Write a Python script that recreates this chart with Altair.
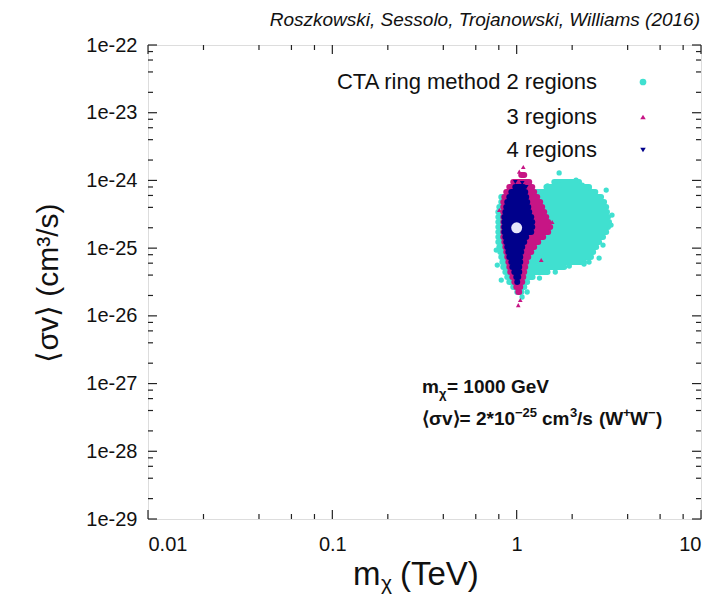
import altair as alt
import pandas as pd

FONT = "Liberation Sans"
W, H = 553, 474

CYAN = "#40E0D0"
MAGENTA = "#C71585"
NAVY = "#00008B"

# Horizontal slices through each reconstructed cloud:
# <sigma v> level (cm^3/s) with the lowest and highest m_chi (TeV) reached.
cyan_sv = [9.46e-25, 7.99e-25, 6.74e-25, 5.69e-25, 4.80e-25, 4.05e-25, 3.41e-25, 2.88e-25,
           2.43e-25, 2.05e-25, 1.73e-25, 1.46e-25, 1.23e-25, 1.04e-25, 8.75e-26, 7.39e-26,
           6.23e-26, 5.26e-26, 4.44e-26, 3.74e-26, 3.16e-26, 2.66e-26, 2.25e-26]
cyan_lo = [1.60, 1.45, 0.971, 0.825, 0.825, 0.805, 0.795, 0.795, 0.795, 0.795, 0.795, 0.795,
           0.795, 0.805, 0.815, 0.825, 0.836, 0.846, 0.868, 0.889, 0.912, 0.958, 1.007]
cyan_hi = [2.18, 2.47, 2.67, 2.87, 2.98, 3.06, 3.09, 3.13, 3.17, 3.13, 3.06, 2.94, 2.80,
           2.70, 2.60, 2.53, 2.32, 1.81, 1.47, 1.22, 1.14, 1.10, 1.06]

mag_sv = [1.20e-24, 9.46e-25, 7.99e-25, 6.74e-25, 5.69e-25, 4.80e-25, 4.05e-25, 3.41e-25,
          2.88e-25, 2.43e-25, 2.05e-25, 1.73e-25, 1.46e-25, 1.23e-25, 1.04e-25, 8.75e-26,
          7.39e-26, 6.23e-26, 5.26e-26, 4.44e-26, 3.74e-26, 3.16e-26, 2.66e-26, 2.25e-26]
mag_lo = [1.059, 0.958, 0.912, 0.878, 0.857, 0.846, 0.846, 0.846, 0.846, 0.846, 0.846, 0.846,
          0.846, 0.857, 0.868, 0.878, 0.889, 0.901, 0.912, 0.923, 0.947, 0.971, 0.995, 1.02]
mag_hi = [1.099, 1.17, 1.215, 1.245, 1.293, 1.342, 1.376, 1.411, 1.447, 1.483, 1.520, 1.483,
          1.393, 1.309, 1.245, 1.20, 1.156, 1.127, 1.113, 1.099, 1.086, 1.072, 1.046, 1.033]

navy_sv = [7.99e-25, 6.74e-25, 5.69e-25, 4.80e-25, 4.05e-25, 3.41e-25, 2.88e-25, 2.43e-25,
           2.05e-25, 1.73e-25, 1.46e-25, 1.23e-25, 1.04e-25, 8.75e-26, 7.39e-26, 6.23e-26,
           5.26e-26, 4.44e-26, 3.74e-26, 3.16e-26]
navy_lo = [0.983, 0.935, 0.912, 0.889, 0.878, 0.868, 0.857, 0.857, 0.857, 0.857, 0.868,
           0.878, 0.889, 0.901, 0.912, 0.935, 0.947, 0.971, 0.995, 1.007]
navy_hi = [1.086, 1.113, 1.127, 1.141, 1.156, 1.17, 1.20, 1.215, 1.215, 1.20, 1.127,
           1.099, 1.072, 1.059, 1.046, 1.046, 1.033, 1.033, 1.02, 1.007]

# Isolated scan points scattered around the cloud edges
cyan_pt_m = [1.70, 1.17, 1.70, 2.10, 2.27, 3.06, 3.25, 2.80, 2.32, 1.62, 1.33, 1.07, 0.785,
             2.47, 1.47, 3.29, 2.94, 2.47, 1.93, 0.775, 0.825, 1.14]
cyan_pt_sv = [1.29e-24, 9.16e-25, 8.55e-25, 1.01e-24, 8.55e-25, 7.21e-25, 2.19e-25,
              7.14e-26, 5.82e-26, 4.44e-26, 3.62e-26, 1.90e-26, 5.63e-26,
              7.73e-25, 8.27e-25, 3.08e-25, 1.11e-25, 6.23e-26, 5.44e-26, 9.37e-26,
              3.38e-26, 2.25e-26]
mag_pt_m = [1.086, 1.02, 1.359, 1.558, 0.805, 1.046, 1.033]
mag_pt_sv = [1.58e-24, 1.44e-26, 6.67e-26, 2.43e-25, 3.65e-25, 1.71e-26, 1.35e-24]
navy_pt_m = [1.072, 1.127, 0.983]
navy_pt_sv = [9.16e-25, 7.99e-25, 9.46e-25]

# Injected benchmark: m_chi = 1000 GeV, <sigma v> = 2e-25 cm^3/s
bench_m = [1.0]
bench_sv = [2e-25]

legend_labels = ["CTA ring method 2 regions", "3 regions", "4 regions"]

x_major = [0.01, 0.1, 1.0, 10.0]
y_major = [10.0 ** k for k in range(-29, -21)]
x_minor = [f * d for d in (0.01, 0.1, 1.0) for f in (2, 4, 6, 8)]
y_minor = [f * 10.0 ** k for k in range(-29, -22) for f in (2, 4, 6, 8)]

xs = alt.Scale(type="log", domain=[0.01, 10], nice=False)
ys = alt.Scale(type="log", domain=[1e-29, 1e-22], nice=False)

x_axis = alt.Axis(values=x_major, format="~g", ticks=False, domain=False, grid=False,
                  labelFont=FONT, labelFontSize=20, labelColor="#111", labelPadding=15,
                  title=None)
y_axis = alt.Axis(values=y_major, labelExpr="'1e-' + format(-log(datum.value)/LN10, '.0f')",
                  ticks=False, domain=False, grid=False, labelFont=FONT, labelFontSize=20,
                  labelColor="#111", labelPadding=11, title=None)


def xq(field):
    return alt.X(field, type="quantitative", scale=xs, axis=x_axis)


def yq(field):
    return alt.Y(field, type="quantitative", scale=ys, axis=y_axis)


def band(sv, lo, hi, color):
    df = pd.DataFrame({"sv": sv, "lo": lo, "hi": hi})
    return alt.Chart(df).mark_rule(color=color, strokeWidth=6, strokeCap="round").encode(
        x=xq("lo"), x2="hi", y=yq("sv"))


def pts(m, sv, color, shape, size):
    df = pd.DataFrame({"m": m, "sv": sv})
    return alt.Chart(df).mark_point(color=color, filled=True, opacity=1, shape=shape,
                                    size=size).encode(x=xq("m"), y=yq("sv"))


layers = [
    band(cyan_sv, cyan_lo, cyan_hi, CYAN),
    pts(cyan_pt_m, cyan_pt_sv, CYAN, "circle", 28),
    band(mag_sv, mag_lo, mag_hi, MAGENTA),
    pts(mag_pt_m, mag_pt_sv, MAGENTA, "triangle-up", 22),
    band(navy_sv, navy_lo, navy_hi, NAVY),
    pts(navy_pt_m, navy_pt_sv, NAVY, "triangle-down", 22),
    pts(bench_m, bench_sv, "#E6E6FA", "circle", 120),
]


# inward ticks on all four sides
def yticks(vals, length):
    df = pd.DataFrame({"v": vals})
    left = alt.Chart(df).mark_rule(color="#222", strokeWidth=1.2).encode(
        y=yq("v"), x=alt.value(0), x2=alt.value(length))
    right = alt.Chart(df).mark_rule(color="#222", strokeWidth=1.2).encode(
        y=yq("v"), x=alt.value(W - length), x2=alt.value(W))
    return [left, right]


def xticks(vals, length):
    df = pd.DataFrame({"v": vals})
    bottom = alt.Chart(df).mark_rule(color="#222", strokeWidth=1.2).encode(
        x=xq("v"), y=alt.value(H), y2=alt.value(H - length))
    top = alt.Chart(df).mark_rule(color="#222", strokeWidth=1.2).encode(
        x=xq("v"), y=alt.value(0), y2=alt.value(length))
    return [bottom, top]


layers += yticks(y_major, 9) + yticks(y_minor, 5) + xticks(x_major, 9) + xticks(x_minor, 5)

one = pd.DataFrame({"k": [0]})


def label(text, x, y, size, align="left", baseline="alphabetic", weight="normal",
          style="normal", angle=0):
    return alt.Chart(one).mark_text(text=text, font=FONT, fontSize=size, align=align,
                                    baseline=baseline, fontWeight=weight, fontStyle=style,
                                    angle=angle, color="#111").encode(
        x=alt.value(x), y=alt.value(y))


# legend: labels on the left, markers on the right
leg_y = [37, 72, 105]
leg_marks = [(CYAN, "circle", 45), (MAGENTA, "triangle-up", 30), (NAVY, "triangle-down", 30)]
for txt, yy, (col, shp, sz) in zip(legend_labels, leg_y, leg_marks):
    layers.append(label(txt, 449, yy, 22, align="right", baseline="middle"))
    layers.append(alt.Chart(one).mark_point(color=col, filled=True, opacity=1, shape=shp,
                                            size=sz).encode(x=alt.value(495), y=alt.value(yy)))

# benchmark annotation, built from pieces so the indices sit raised / lowered
B = dict(weight="bold")
layers += [
    label("m", 274, 348, 19, **B),
    label("χ", 291, 353, 13, **B),
    label("= 1000 GeV", 299, 348, 19, **B),
    label("⟨σv⟩= 2*10", 274, 380, 19, **B),
    label("−25", 367, 372, 13, **B),
    label("cm", 394, 380, 19, **B),
    label("3", 422, 372, 13, **B),
    label("/s", 429, 380, 19, **B),
    label("(W", 451, 380, 19, **B),
    label("+", 475, 372, 13, **B),
    label("W", 482, 380, 19, **B),
    label("−", 500, 372, 13, **B),
    label(")", 508, 380, 19, **B),
]

# axis titles and credit line
layers += [
    label("m", 205, 540, 33),
    label("χ", 233, 545, 21),
    label("(TeV)", 252, 540, 33),
    label("⟨σv⟩ (cm³/s)", -90, 238, 30, align="center", angle=270),
    label("Roszkowski, Sessolo, Trojanowski, Williams (2016)", 552, -19, 19,
          align="right", style="italic"),
]

chart = alt.layer(*layers).properties(
    width=W, height=H,
    padding={"left": 148, "top": 45, "right": 21, "bottom": 77},
    autosize=alt.AutoSizeParams(type="none"),
).configure_view(stroke="#222", strokeWidth=1.5).configure(background="white")

chart.save("out.html", embed_options={"renderer": "svg", "actions": False})
